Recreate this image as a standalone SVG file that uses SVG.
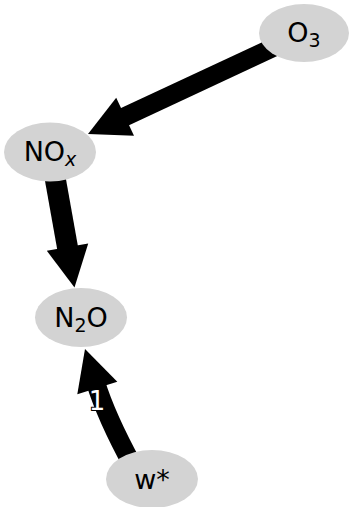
<svg xmlns="http://www.w3.org/2000/svg" width="349" height="507" viewBox="0 0 349 507">
<style>
.node ellipse{fill:#d3d3d3;stroke:none}
.node text{font-family:"DejaVu Sans",sans-serif;font-size:27px;fill:#000;text-anchor:middle}
.sub{font-size:19px}
.shaft{fill:none;stroke:#000;stroke-linecap:butt}
.head{fill:#000;stroke:none}
.elabel{font-family:"DejaVu Sans",sans-serif;font-size:26px;fill:#fff;stroke:#000;stroke-width:2;paint-order:stroke;text-anchor:middle}
</style>
<rect width="349" height="507" fill="#fff"/>
<g id="edges">
  <g id="edge-O3-NOx">
    <line class="shaft" x1="300" y1="35" x2="119.7" y2="119.2" stroke-width="19"/>
    <polygon class="head" points="88,134 134,135.7 116.2,97.7"/>
  </g>
  <g id="edge-NOx-N2O">
    <line class="shaft" x1="51" y1="155" x2="68.5" y2="253" stroke-width="21"/>
    <polygon class="head" points="74.5,287.5 88.2,243.5 46.8,250.7"/>
  </g>
  <g id="edge-w-N2O">
    <path class="shaft" d="M133,466 Q106,416.5 95.5,382" stroke-width="19"/>
    <polygon class="head" points="85,349 117.3,381.7 77.3,394.3"/>
    <text class="elabel" x="97" y="410">1</text>
  </g>
</g>
<g id="node-O3" class="node">
  <ellipse cx="304" cy="33" rx="45" ry="29"/>
  <text x="304" y="42">O<tspan class="sub" dy="5">3</tspan></text>
</g>
<g id="node-NOx" class="node">
  <ellipse cx="50" cy="152" rx="46" ry="29.5"/>
  <text x="50" y="161">NO<tspan class="sub" dy="5" font-style="italic">x</tspan></text>
</g>
<g id="node-N2O" class="node">
  <ellipse cx="81" cy="317.5" rx="46" ry="29.5"/>
  <text x="81" y="327">N<tspan class="sub" dy="5">2</tspan><tspan dy="-5">O</tspan></text>
</g>
<g id="node-w" class="node">
  <ellipse cx="152" cy="479" rx="46" ry="29"/>
  <text x="152" y="489">w*</text>
</g>
</svg>
